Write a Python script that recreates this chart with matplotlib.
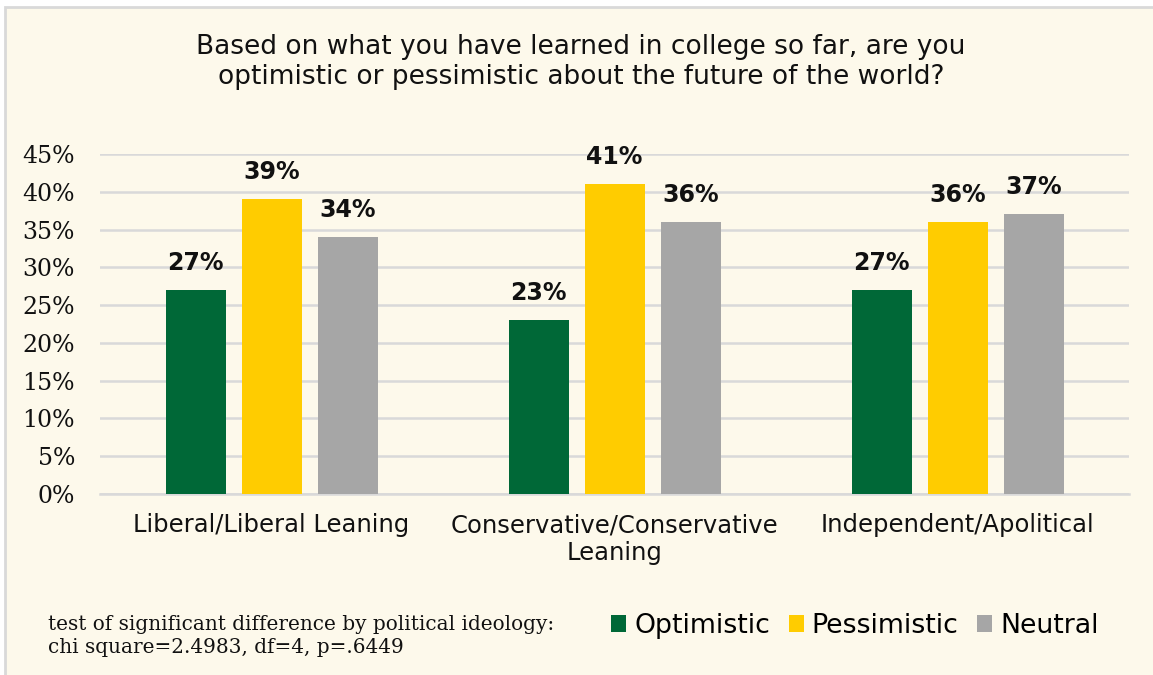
import matplotlib
matplotlib.use("Agg")

import matplotlib.pyplot as plt
import numpy as np
from matplotlib.patches import Rectangle, Patch

# Survey shares by political ideology
groups = ["Liberal/Liberal Leaning", "Conservative/Conservative\nLeaning", "Independent/Apolitical"]
series = ["Optimistic", "Pessimistic", "Neutral"]
optimistic = [0.27, 0.23, 0.27]
pessimistic = [0.39, 0.41, 0.36]
neutral = [0.34, 0.36, 0.37]
yticks = [0.0, 0.05, 0.10, 0.15, 0.20, 0.25, 0.30, 0.35, 0.40, 0.45]

colors = ["#006837", "#FFCC00", "#A6A6A6"]
bg = "#FDF9EB"
grid_c = "#D9D9D9"
sans = "DejaVu Sans"
serif = "DejaVu Serif"

W, H = 1153, 675
fig = plt.figure(figsize=(W / 100, H / 100), dpi=100)
fig.patch.set_facecolor("white")

# cream panel with a thin grey frame (runs off the right/bottom edge)
fig.patches.append(Rectangle((5 / W, -0.05), 1.1, 1 - 7 / H + 0.05,
                             transform=fig.transFigure, facecolor=bg,
                             edgecolor=grid_c, linewidth=2, zorder=-10))

ax = fig.add_axes([100 / W, (H - 494) / H, 1029 / W, 340 / H])
ax.patch.set_alpha(0)

x = np.arange(len(groups))
width = 60 / 343
step = 76 / 343
for i, (vals, name) in enumerate(zip([optimistic, pessimistic, neutral], series)):
    pos = x + (i - 1) * step
    ax.bar(pos, vals, width=width, color=colors[i], label=name, zorder=3)
    for px, v in zip(pos, vals):
        ax.text(px, v + 0.02, f"{round(v * 100)}%", ha="center", va="bottom",
                fontsize=17, fontfamily=sans, fontweight="bold", color="#111111")

ax.set_xlim(-0.5, 2.5)
ax.set_ylim(0, 0.45)
ax.set_yticks(yticks)
ax.set_yticklabels([f"{round(t * 100)}%" for t in yticks], fontfamily=serif, fontsize=17)
ax.set_xticks(x)
ax.set_xticklabels(groups, fontfamily=sans, fontsize=17.5, linespacing=1.2)
ax.tick_params(axis="both", length=0, colors="#111111")
ax.tick_params(axis="y", pad=18)
ax.tick_params(axis="x", pad=14)
ax.grid(axis="y", color=grid_c, linewidth=1.8, zorder=0)
ax.axhline(0, color=grid_c, linewidth=1.8, zorder=2, clip_on=False)
for s in ax.spines.values():
    s.set_visible(False)

fig.text(581 / W, 1 - 62 / H,
         "Based on what you have learned in college so far, are you\n"
         "optimistic or pessimistic about the future of the world?",
         ha="center", va="center", fontsize=19, fontfamily=sans,
         color="#111111", linespacing=1.2)

fig.text(48 / W, 1 - 636 / H,
         "test of significant difference by political ideology:\n"
         "chi square=2.4983, df=4, p=.6449",
         ha="left", va="center", fontsize=14.4, fontfamily=serif,
         color="#111111", linespacing=1.3)

handles = [Patch(facecolor=c, label=n) for c, n in zip(colors, series)]
fig.legend(handles=handles, loc="center right", bbox_to_anchor=(1112 / W, 1 - 626 / H),
           ncol=3, frameon=False, handlelength=0.55, handleheight=0.55,
           handletextpad=0.3, columnspacing=0.7, borderpad=0,
           prop={"family": sans, "size": 19.3})

fig.savefig("out.png", dpi=100, facecolor=fig.get_facecolor())
